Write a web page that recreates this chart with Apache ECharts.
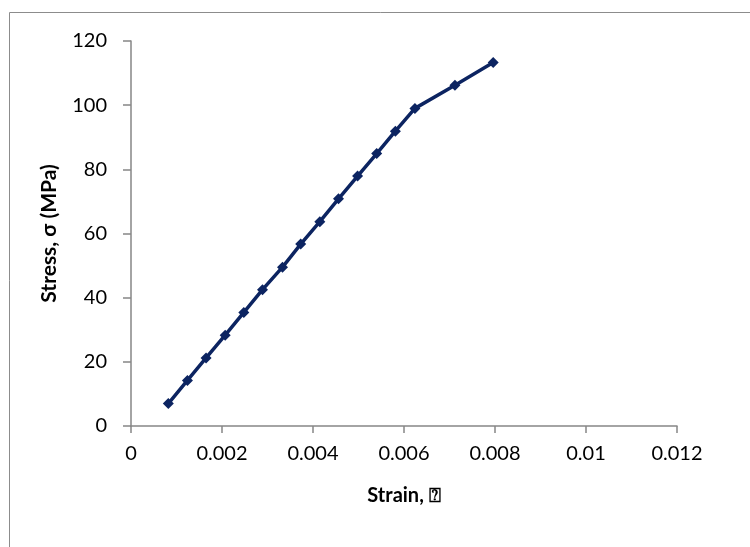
<!DOCTYPE html>
<html>
<head>
<meta charset="utf-8">
<script src="https://cdn.jsdelivr.net/npm/echarts@6/dist/echarts.min.js"></script>
<style>
html, body { margin: 0; padding: 0; background: #fff; }
#main { width: 750px; height: 547px; }
</style>
</head>
<body>
<div id="main"></div>
<script>
// strain / stress values
var strain = [0.00082, 0.00124, 0.00165, 0.00207, 0.00248, 0.00289, 0.00333, 0.00373,
              0.00415, 0.00456, 0.00498, 0.0054, 0.00581, 0.00624, 0.00712, 0.00796];
var stress = [7.0, 14.2, 21.2, 28.3, 35.4, 42.5, 49.5, 56.7,
              63.7, 70.8, 77.9, 84.9, 91.9, 99.0, 106.2, 113.3];
var xTicks = ['0', '0.002', '0.004', '0.006', '0.008', '0.01', '0.012'];

var points = strain.map(function (s, i) { return [s, stress[i]]; });
var font = 'Lato, "Open Sans", sans-serif';

var myChart = echarts.init(document.getElementById('main'));

var option = {
    animation: false,
    backgroundColor: '#fff',
    //外框
    graphic: [{
        type: 'rect',
        shape: { x: 9.5, y: 12.5, width: 800, height: 600 },
        style: { fill: 'none', stroke: '#8c8c8c', lineWidth: 1 },
        silent: true
    }],
    grid: { left: 131, right: 73, top: 41, bottom: 121 },
    xAxis: {
        type: 'value',
        min: 0,
        max: 0.012,
        interval: 0.002,
        name: 'Strain, \u2370',
        nameLocation: 'middle',
        nameGap: 60,
        nameTextStyle: { fontFamily: font, fontSize: 20, fontWeight: 'bold', color: '#000' },
        axisLine: { show: true, lineStyle: { color: '#868686', width: 1.5 } },
        axisTick: { show: true, length: 7, lineStyle: { color: '#868686', width: 1.5 } },
        splitLine: { show: false },
        axisLabel: {
            fontFamily: font, fontSize: 20, color: '#000', margin: 18,
            formatter: function (v) { return xTicks[Math.round(v / 0.002)]; }
        }
    },
    yAxis: {
        type: 'value',
        min: 0,
        max: 120,
        interval: 20,
        name: 'Stress, \u03c3 (MPa)',
        nameLocation: 'middle',
        nameGap: 71,
        nameTextStyle: { fontFamily: font, fontSize: 21, fontWeight: 'bold', color: '#000' },
        axisLine: { show: true, lineStyle: { color: '#868686', width: 1.5 } },
        axisTick: { show: true, length: 8, lineStyle: { color: '#868686', width: 1.5 } },
        splitLine: { show: false },
        axisLabel: { fontFamily: font, fontSize: 20, color: '#000', margin: 24 }
    },
    series: [{
        type: 'line',
        data: points,
        symbol: 'diamond',
        symbolSize: 11,
        lineStyle: { color: '#0c2461', width: 3.5 },
        itemStyle: { color: '#0c2461' }
    }]
};
myChart.setOption(option);
</script>
</body>
</html>
